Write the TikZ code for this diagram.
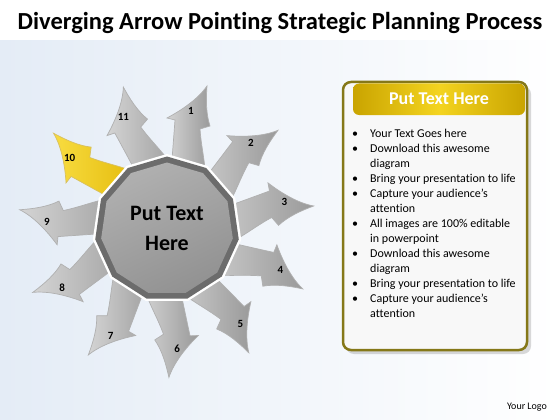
\documentclass[tikz,border=0pt]{standalone}
\usepackage{fontspec}
\setmainfont{Carlito}[Ligatures={NoCommon}]
\usetikzlibrary{shapes.geometric}
\definecolor{bgblue}{HTML}{E4ECF6}
\definecolor{arrowlight}{HTML}{D4D4D4}
\definecolor{arrowdark}{HTML}{9A9A9A}
\definecolor{arrowedge}{HTML}{B0B0B0}
\definecolor{yellowlight}{HTML}{F8DC40}
\definecolor{yellowdark}{HTML}{E0B400}
\definecolor{yellowedge}{HTML}{D8C060}
\definecolor{polyborder}{HTML}{6C6C6C}
\definecolor{polylight}{HTML}{B0B0B0}
\definecolor{polydark}{HTML}{929292}
\definecolor{panelborder}{HTML}{857818}
\definecolor{panelfill}{HTML}{F8F8F8}
\definecolor{headside}{HTML}{C9A400}
\definecolor{headmid}{HTML}{F4D420}
\begin{document}
\begin{tikzpicture}[x=1pt,y=-1pt,
  grayarrow/.style={left color=arrowlight, right color=arrowdark, draw=arrowedge, line width=0.7pt},
  yellowarrow/.style={left color=yellowlight, right color=yellowdark, draw=yellowedge, line width=0.7pt},
  numlabel/.style={font=\fontsize{11}{12}\selectfont\bfseries, inner sep=0pt},
  polyshape/.style={regular polygon, regular polygon sides=11, inner sep=0pt}]
\useasboundingbox (0,0) rectangle (560,420);
% background
\shade[left color=bgblue, right color=white] (0,0) rectangle (560,420);
\fill[white] (0,0) rectangle (560,40);
% title
\node[font=\fontsize{24.5}{28}\selectfont\bfseries, anchor=base] (title) at (280,30) {Diverging Arrow Pointing Strategic Planning Process};
% arrows
\foreach \k/\sty in {1/grayarrow,2/grayarrow,3/grayarrow,4/grayarrow,5/grayarrow,6/grayarrow,7/grayarrow,8/grayarrow,9/grayarrow,10/yellowarrow,11/grayarrow}{
  \begin{scope}[shift={(167,229)}, yscale=-1, rotate={(\k-1)*32.727}]
    \path[\sty] (2,30) .. controls (5,70) and (7,95) .. (8,109) -- (0,111)
      .. controls (15,119) and (31,130) .. (40,143)
      .. controls (39,129) and (39,115) .. (43,103) -- (33,100)
      .. controls (34,85) and (37,72) .. (38,60) -- (36,30) -- cycle;
    \node[numlabel] (lab\k) at (24,118) {\k};
  \end{scope}
}
% central polygon
\node[polyshape, minimum size=150pt, fill=white] (polyout) at (167,229) {};
\node[polyshape, minimum size=145pt, fill=polyborder] (polyborder) at (167,229) {};
\node[polyshape, minimum size=133pt, top color=polylight, bottom color=polydark, shading angle=25] (polyinner) at (167,229) {};
\node[font=\fontsize{22}{30}\selectfont\bfseries, align=center] (ctext) at (167,228) {Put Text\\Here};
% right panel
\fill[black, opacity=0.15, rounded corners=8pt] (346,86) rectangle (531,354);
\draw[panelborder, line width=2.5pt, fill=panelfill, rounded corners=8pt] (343,82) rectangle (527,350);
\shade[left color=headside, right color=headside, middle color=headmid, rounded corners=6pt] (353,83.5) rectangle (525,115);
\node[font=\fontsize{18}{20}\selectfont\bfseries, text=white, anchor=base] (htext) at (439,104) {Put Text Here};
\node[anchor=north west, inner sep=0pt, font=\fontsize{12}{15}\selectfont] (bullets) at (352,126.5) {%
\begin{tabular}{@{}p{18pt}@{}l@{}}
\textbullet & Your Text Goes here\\
\textbullet & Download this awesome\\
 & diagram\\
\textbullet & Bring your presentation to life\\
\textbullet & Capture your audience’s\\
 & attention\\
\textbullet & All images are 100\% editable\\
 & in powerpoint\\
\textbullet & Download this awesome\\
 & diagram\\
\textbullet & Bring your presentation to life\\
\textbullet & Capture your audience’s\\
 & attention
\end{tabular}};
\node[font=\fontsize{10}{12}\selectfont, anchor=base] (logo) at (527,409) {Your Logo};
\end{tikzpicture}
\end{document}
